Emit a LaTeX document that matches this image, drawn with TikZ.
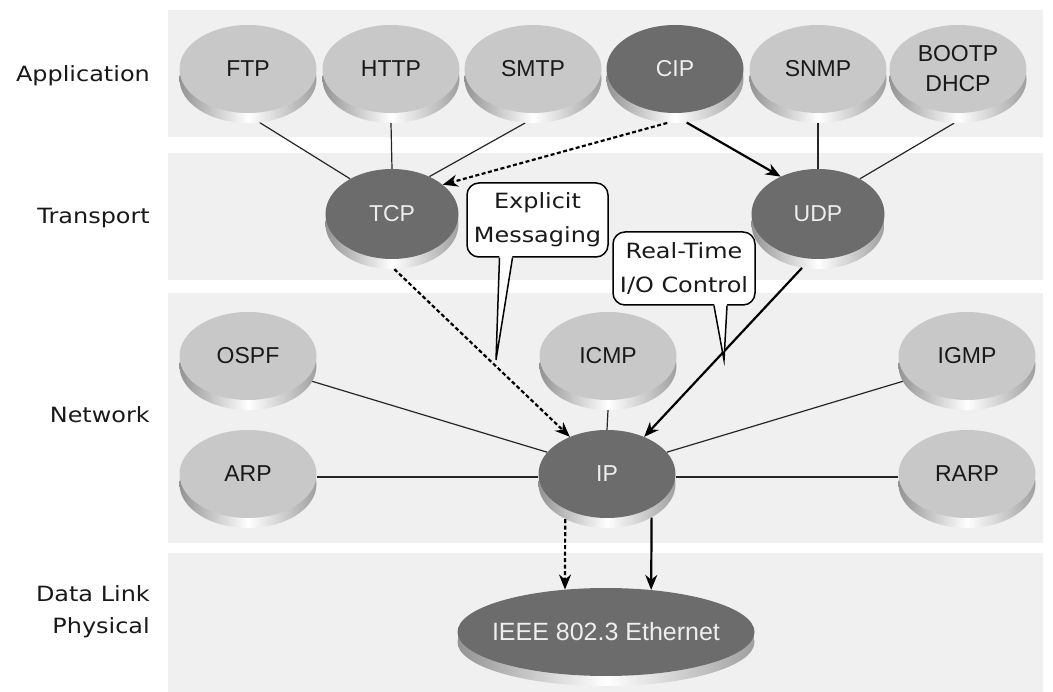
\documentclass[tikz,border=0pt]{standalone}
\usepackage{fontspec}
\setmainfont{Liberation Sans}
\newfontfamily\widefont[FakeStretch=1.14]{DejaVu Sans}
\usetikzlibrary{shapes.geometric,arrows.meta,shadows}
\definecolor{bandgray}{HTML}{F0F0F0}
\definecolor{lightnode}{HTML}{C8C8C8}
\definecolor{darknode}{HTML}{6C6C6C}
\definecolor{darktext}{HTML}{EEEEEE}
\pgfdeclarelayer{background}
\pgfsetlayers{background,main}
\tikzset{
  band/.style={fill=bandgray, draw=none},
  layerlabel/.style={anchor=east, font=\widefont\fontsize{21}{32}\selectfont, text=black!90, inner sep=0pt, align=right},
  disk/.style={ellipse, minimum width=137pt, minimum height=88pt, inner sep=0pt, align=center,
     font=\fontsize{23}{30}\selectfont,
     general shadow={shadow yshift=-10pt, left color=gray!85, right color=gray!75, middle color=white}},
  lightdisk/.style={disk, fill=lightnode, text=black!90},
  darkdisk/.style={disk, fill=darknode, text=darktext},
  link/.style={line width=1.2pt, black!85},
  solidarrow/.style={line width=2.2pt, black, -{Stealth[length=15pt,width=12pt]}},
  dasharrow/.style={solidarrow, dash pattern=on 4pt off 2.5pt},
  callout/.style={draw, line width=1.5pt, fill=white, rounded corners=12pt, align=center,
     font=\widefont\fontsize{21}{34}\selectfont, inner sep=2pt, text=black!90},
  tail/.style={line width=1.5pt, line join=miter},
}
\begin{document}
\begin{tikzpicture}[x=1pt, y=-1pt]
\useasboundingbox (0,0) rectangle (1053,692);

% white page and layer bands
\begin{pgfonlayer}{background}
\fill[white] (0,0) rectangle (1053,692);
\fill[band] (168,10) rectangle (1043,137);
\fill[band] (168,153) rectangle (1043,280);
\fill[band] (168,293) rectangle (1043,543);
\fill[band] (168,553) rectangle (1043,692);
\end{pgfonlayer}

% layer labels
\node[layerlabel] (lapp) at (150,76) {Application};
\node[layerlabel] (ltrans) at (150,218) {Transport};
\node[layerlabel] (lnet) at (150,415) {Network};
\node[layerlabel] (ldl) at (150,612) {Data Link\\Physical};

% application layer
\node[lightdisk] (ftp) at (248,69) {FTP};
\node[lightdisk] (http) at (391,69) {HTTP};
\node[lightdisk] (smtp) at (533,69) {SMTP};
\node[darkdisk] (cip) at (675,69) {CIP};
\node[lightdisk] (snmp) at (818,69) {SNMP};
\node[lightdisk] (bootp) at (958,69) {BOOTP\\DHCP};

% transport layer
\node[darkdisk, minimum width=133pt, minimum height=90pt] (tcp) at (392,214) {TCP};
\node[darkdisk, minimum width=133pt, minimum height=90pt] (udp) at (818,214) {UDP};

% network layer
\node[lightdisk] (ospf) at (248,356) {OSPF};
\node[lightdisk] (icmp) at (608,356) {ICMP};
\node[lightdisk] (igmp) at (967,356) {IGMP};
\node[lightdisk] (arp) at (248,474) {ARP};
\node[darkdisk] (ip) at (607,474) {IP};
\node[lightdisk] (rarp) at (967,474) {RARP};

% data link
\node[darkdisk, minimum width=297pt, inner xsep=-10pt, font=\fontsize{25}{30}\selectfont] (eth) at (606,632) {IEEE 802.3 Ethernet};

% plain links
\begin{pgfonlayer}{background}
\draw[link] ([yshift=-10pt]ftp.-75) -- (tcp.140);
\draw[link] ([yshift=-10pt]http.south) -- (tcp.north);
\draw[link] ([yshift=-10pt]smtp.-100) -- (tcp.45);
\draw[link] ([yshift=-10pt]snmp.south) -- (udp.north);
\draw[link] ([yshift=-10pt]bootp.-95) -- (udp.40);
\draw[link] (ospf.-22) -- (ip.160);
\draw[link] (igmp.202) -- (ip.20);
\draw[link] ([yshift=-3pt]arp.east) -- ([yshift=-3pt]ip.west);
\draw[link] ([yshift=-3pt]ip.east) -- ([yshift=-3pt]rarp.west);
\draw[link] ([yshift=-10pt]icmp.south) -- (ip.north);
\end{pgfonlayer}

% arrows
\draw[dasharrow] ([yshift=-10pt]cip.-100) -- (tcp.30);
\draw[solidarrow] ([yshift=-10pt]cip.-75) -- (udp.135);
\draw[dasharrow] ([yshift=-10pt]tcp.-87) -- (ip.135);
\draw[solidarrow] ([yshift=-10pt]udp.-110) -- (ip.45);
\draw[dasharrow] ([yshift=-10pt]ip.-140) -- (eth.134);
\draw[solidarrow] ([yshift=-10pt]ip.-37.5) -- (eth.43);

% callouts
\node[callout, minimum width=141pt, minimum height=74pt] (em) at (537.5,220) {Explicit\\Messaging};
\coordinate (emtip) at (496,360);
\fill[white] ([xshift=-38pt,yshift=3pt]em.south) -- (emtip) -- ([xshift=-25pt,yshift=3pt]em.south) -- cycle;
\draw[tail] ([xshift=-38pt]em.south) -- (emtip) -- ([xshift=-25pt]em.south);

\node[callout, minimum width=142pt, minimum height=73pt] (rt) at (684,268.5) {Real-Time\\I/O Control};
\coordinate (rttip) at (724,360);
\fill[white] ([xshift=30pt,yshift=3pt]rt.south) -- (rttip) -- ([xshift=43pt,yshift=3pt]rt.south) -- cycle;
\draw[tail] ([xshift=30pt]rt.south) -- (rttip) -- ([xshift=43pt]rt.south);
\end{tikzpicture}
\end{document}
